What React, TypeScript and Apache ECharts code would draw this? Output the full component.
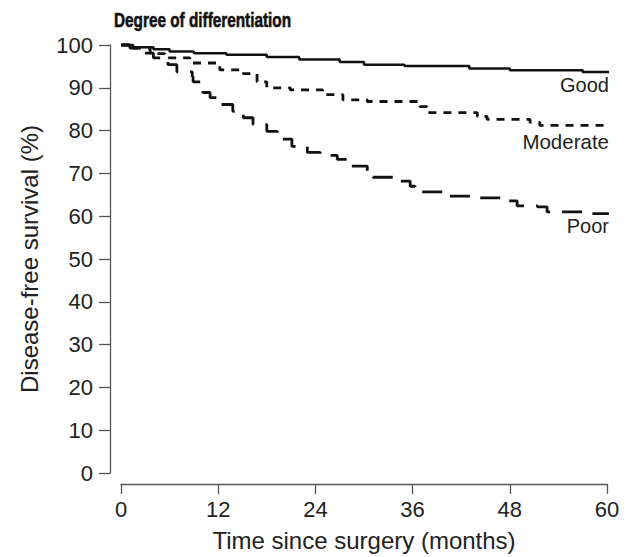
import React, { useEffect, useRef } from "react";
import * as echarts from "echarts";

const xTicks = [0, 12, 24, 36, 48, 60];
const goodData: [number, number][] = [
  [0, 100], [1.5, 99.5], [4, 99], [6, 98.5], [9, 98.1], [13, 97.7], [18, 97.2], [22, 96.6],
  [27, 96.0], [30, 95.4], [35, 95.1], [43, 94.5], [48, 94.1], [57, 93.7], [60.6, 93.7],
];
const moderateData: [number, number][] = [
  [0, 100], [1.5, 99.3], [3.6, 98], [5.4, 97], [8.5, 95.8], [12.2, 94.2], [14.7, 93.3],
  [16.8, 91.4], [18, 90], [20.9, 89.5], [24.9, 88.4], [27.4, 87.2], [30.4, 86.8], [36.9, 85.6],
  [37.8, 84.2], [44, 83.3], [45.2, 82.6], [50.5, 81.9], [51.7, 81.2], [60.6, 81.0],
];
const poorData: [number, number][] = [
  [0, 100], [1.1, 99.3], [2.7, 98.1], [4, 97], [5.8, 95.4], [6.9, 93.7], [8.8, 92.6], [8.9, 91.4],
  [9.8, 90.3], [10.1, 88.9], [11, 87.7], [12.2, 86.1], [13.8, 84.5], [15.1, 83], [16.3, 81.4],
  [18, 79.8], [19.3, 78], [21.1, 76.3], [23, 74.9], [24.6, 74.2], [26.7, 73.3], [28.3, 71.7],
  [30.4, 70.4], [31.1, 69.1], [33.6, 68.2], [35.7, 67], [36.3, 65.7], [40.2, 64.7], [44.3, 64.3],
  [47.2, 63.6], [48.9, 62.4], [51.4, 62.2], [52.6, 61], [57.9, 60.6], [60.6, 60.6],
];
const seriesNames = ["Good", "Moderate", "Poor"];

const FONT = "Liberation Sans";

export default function App() {
  const ref = useRef<HTMLDivElement>(null);
  useEffect(() => {
    if (!ref.current) return;
    const chart = echarts.init(ref.current, undefined, { renderer: "svg" });
    const lineCol = "#111";
    const axisCol = "#555";
    chart.setOption({
      animation: false,
      backgroundColor: "#fff",
      grid: { left: 121, right: 24, top: 45, bottom: 81 },
      xAxis: {
        type: "value",
        min: 0,
        max: 60,
        interval: 12,
        offset: 11,
        name: "Time since surgery (months)",
        nameLocation: "middle",
        nameGap: 44,
        nameTextStyle: { fontFamily: FONT, fontSize: 24, color: "#222" },
        axisLine: { show: true, onZero: false, lineStyle: { color: axisCol, width: 1.3 } },
        axisTick: { show: true, inside: false, length: 10, lineStyle: { color: axisCol, width: 1.3 } },
        axisLabel: {
          fontFamily: FONT, fontSize: 22, color: "#222", margin: 14,
          formatter: (v: number) => (xTicks.includes(v) ? String(v) : ""),
        },
        splitLine: { show: false },
      },
      yAxis: {
        type: "value",
        min: 0,
        max: 100,
        interval: 10,
        offset: 11,
        name: "Disease-free survival (%)",
        nameLocation: "middle",
        nameGap: 69,
        nameRotate: 90,
        nameTextStyle: { fontFamily: FONT, fontSize: 24, color: "#222" },
        axisLine: { show: true, onZero: false, lineStyle: { color: axisCol, width: 1.3 } },
        axisTick: { show: true, length: 11, lineStyle: { color: axisCol, width: 1.3 } },
        axisLabel: { fontFamily: FONT, fontSize: 22, color: "#222", margin: 17 },
        splitLine: { show: false },
      },
      series: [
        {
          name: seriesNames[0], type: "line", step: "end", data: goodData, showSymbol: false, clip: false,
          lineStyle: { color: lineCol, width: 2.5, type: "solid" },
        },
        {
          name: seriesNames[1], type: "line", step: "end", data: moderateData, showSymbol: false, clip: false,
          lineStyle: { color: lineCol, width: 2.8, type: [8, 7] },
        },
        {
          name: seriesNames[2], type: "line", step: "end", data: poorData, showSymbol: false, clip: false,
          lineStyle: { color: lineCol, width: 2.8, type: [20, 12] },
        },
      ],
      graphic: [
        {
          type: "text", x: 114, y: 9, scaleX: 0.73,
          style: {
            text: "Degree of differentiation", font: `bold 21px ${FONT}`, fill: "#111",
            stroke: "#111", lineWidth: 0.6, verticalAlign: "top",
          },
        },
        {
          type: "text", x: 609, y: 85,
          style: { text: seriesNames[0], font: `20px ${FONT}`, fill: "#222", align: "right", verticalAlign: "middle" },
        },
        {
          type: "text", x: 609, y: 141,
          style: { text: seriesNames[1], font: `20.5px ${FONT}`, fill: "#222", align: "right", verticalAlign: "middle" },
        },
        {
          type: "text", x: 609, y: 226,
          style: { text: seriesNames[2], font: `20px ${FONT}`, fill: "#222", align: "right", verticalAlign: "middle" },
        },
      ],
    });
    return () => chart.dispose();
  }, []);
  return <div ref={ref} style={{ position: "absolute", left: 0, top: 0, width: 631, height: 557 }} />;
}
